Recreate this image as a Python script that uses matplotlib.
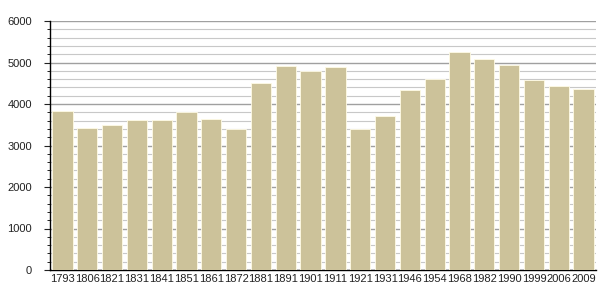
import numpy as np
import matplotlib
matplotlib.use('Agg')
from matplotlib import pyplot as plt
from matplotlib.ticker import MultipleLocator

years = ['1793', '1806', '1821', '1831', '1841', '1851', '1861', '1872', '1881', '1891', '1901',
         '1911', '1921', '1931', '1946', '1954', '1968', '1982', '1990', '1999', '2006', '2009']
population = [3831, 3422, 3494, 3614, 3614, 3800, 3639, 3398, 4506, 4916, 4795,
              4892, 3398, 3711, 4337, 4602, 5253, 5084, 4940, 4578, 4434, 4369]

plt.rcParams['font.family'] = ['Liberation Sans', 'DejaVu Sans']

fig = plt.figure(figsize=(6.05, 3.0), dpi=100)
ax = fig.add_axes([50 / 605, 0.1, 546 / 605, 0.83])

x = np.arange(len(years))
ax.bar(x, population, width=0.82, color='#ccc29a', edgecolor='#fffbe6', linewidth=0.6, zorder=3)

ax.set_xlim(-0.5, len(years) - 0.5)
ax.set_ylim(0, 6000)
ax.set_xticks(x)
ax.set_xticklabels(years)
ax.yaxis.set_major_locator(MultipleLocator(1000))
ax.yaxis.set_minor_locator(MultipleLocator(200))

# grid
ax.grid(axis='y', which='major', color='#a0a0a0', linewidth=1.0, zorder=0)
ax.grid(axis='y', which='minor', color='#c8c8c8', linewidth=0.8, zorder=0)
ax.set_axisbelow(True)

for s in ['top', 'right']:
    ax.spines[s].set_visible(False)
ax.spines['left'].set_linewidth(1.0)
ax.spines['bottom'].set_linewidth(1.0)

ax.tick_params(axis='x', length=0, labelsize=8, pad=3, colors='#222222')
ax.tick_params(axis='y', which='major', length=4, labelsize=8, pad=9, colors='#222222')
ax.tick_params(axis='y', which='minor', length=2)

plt.savefig('out.png', dpi=100)
